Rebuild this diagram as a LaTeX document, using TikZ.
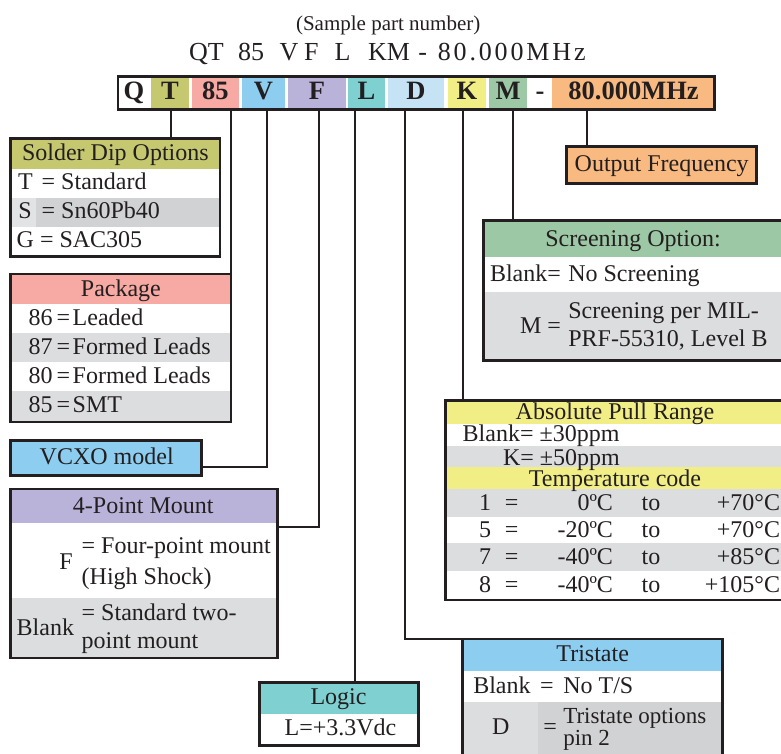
\documentclass[tikz,border=0pt]{standalone}
\usepackage{fontspec}
\setmainfont{Liberation Serif}
\newfontfamily\trackfont[LetterSpace=11]{Liberation Serif}
\definecolor{ink}{HTML}{231F20}
\definecolor{cOlive}{HTML}{C5C86E}
\definecolor{cSalmon}{HTML}{F7A9A3}
\definecolor{cSky}{HTML}{8DCDF0}
\definecolor{cLav}{HTML}{B9B3DA}
\definecolor{cTeal}{HTML}{7FD0D1}
\definecolor{cPale}{HTML}{C6E3F5}
\definecolor{cYel}{HTML}{F2EE86}
\definecolor{cGreen}{HTML}{9CC8A5}
\definecolor{cOrange}{HTML}{F9BA82}
\definecolor{cGray}{HTML}{DCDDDF}
\definecolor{cGrayD}{HTML}{D1D2D4}
\definecolor{cGrayL}{HTML}{E2E3E5}
\begin{document}
\begin{tikzpicture}[x=1pt,y=-1pt,
  every node/.style={inner sep=0pt, outer sep=0pt, text=ink},
  font=\fontsize{24}{26}\selectfont,
  frame/.style={draw=ink, line width=2.6pt, anchor=north west},
  wire/.style={draw=ink, line width=2pt},
  tx/.style={text height=16pt, text depth=0pt},
  cellbox/.style={minimum height=30.6pt, text height=17.5pt, text depth=4pt,
    font=\fontsize{26.5}{27}\selectfont\bfseries}]
\useasboundingbox (0,0) rectangle (781,753);
\clip (0,0) rectangle (781,753);

% ---------- title ----------
\node[anchor=base, font=\fontsize{21}{22}\selectfont] (sub) at (388.2,30.7) {(Sample part number)};
\begin{scope}[every node/.append style={anchor=base west, font=\fontsize{26}{27}\selectfont}]
\node (ti1) at (189.2,60.7) {QT};
\node (ti2) at (238.1,60.7) {85};
\node (ti3) at (279.7,60.7) {V};
\node (ti4) at (304.2,60.7) {F};
\node (ti5) at (334.7,60.7) {L};
\node (ti6) at (368.1,60.7) {KM};
\node (ti7) at (418.3,60.7) {-};
\node (ti8) at (437.8,60.7) {\trackfont 80.000MHz};
\end{scope}

% ---------- code bar ----------
\node[cellbox, minimum width=32pt] (cQ) at (134,93) {Q};
\node[cellbox, fill=cOlive, minimum width=38.3pt] (cT) at (169.85,93) {T};
\node[cellbox, fill=cSalmon, minimum width=47.3pt] (c85) at (215.35,93) {85};
\node[cellbox, fill=cSky, minimum width=43pt] (cV) at (263.5,93) {V};
\node[cellbox, fill=cLav, minimum width=57.7pt] (cF) at (316.85,93) {F};
\node[cellbox, fill=cTeal, minimum width=37pt] (cL) at (366.5,93) {L};
\node[cellbox, fill=cPale, minimum width=56pt] (cD) at (416,93) {D};
\node[cellbox, fill=cYel, minimum width=38pt] (cK) at (467,93) {K};
\node[cellbox, fill=cGreen, minimum width=38pt] (cM) at (508,93) {M};
\node[cellbox, minimum width=24pt] (cDash) at (540,93) {-};
\node[cellbox, fill=cOrange, minimum width=163pt] (cMHz) at (633.5,93) {80.000MHz};
\node[frame, minimum width=596.7pt, minimum height=33pt] (bar) at (117.8,76.7) {};

% ---------- Solder Dip Options ----------
\fill[cOlive] (10.7,138.3) rectangle (220,169.3);
\fill[cGrayL] (10.7,198.3) rectangle (35.7,226.7);
\fill[cGrayD] (35.7,198.3) rectangle (220,226.7);
\node[frame, minimum width=209.3pt, minimum height=118.4pt] (solder) at (10.7,138.3) {};
\node[tx] (sdh) at (115.4,152.8) {Solder Dip Options};
\node[tx,anchor=west] (sd1a) at (18,181.8) {T};
\node[tx,anchor=west] (sd1b) at (41.7,181.8) {= Standard};
\node[tx,anchor=west] (sd2a) at (18.3,210.5) {S};
\node[tx,anchor=west] (sd2b) at (41.7,210.5) {= Sn60Pb40};
\node[tx,anchor=west] (sd3a) at (16.7,239.5) {G};
\node[tx,anchor=west] (sd3b) at (40,239.5) {= SAC305};

% ---------- Package ----------
\fill[cSalmon] (10.7,274) rectangle (231,304);
\fill[cGray] (10.7,333) rectangle (231,362);
\fill[cGray] (10.7,391) rectangle (231,422);
\node[frame, minimum width=220.3pt, minimum height=148pt] (pkg) at (10.7,274) {};
\node[tx] (pkh) at (120.9,288.3) {Package};
\node[tx,anchor=east] (pk1a) at (52.7,317.5) {86};
\node[tx,anchor=west] (pk1b) at (56.7,317.5) {=};
\node[tx,anchor=west] (pk1c) at (72.7,317.5) {Leaded};
\node[tx,anchor=east] (pk2a) at (52.7,346.5) {87};
\node[tx,anchor=west] (pk2b) at (56.7,346.5) {=};
\node[tx,anchor=west] (pk2c) at (72.7,346.5) {Formed Leads};
\node[tx,anchor=east] (pk3a) at (52.7,375.5) {80};
\node[tx,anchor=west] (pk3b) at (56.7,375.5) {=};
\node[tx,anchor=west] (pk3c) at (72.7,375.5) {Formed Leads};
\node[tx,anchor=east] (pk4a) at (52.7,404.5) {85};
\node[tx,anchor=west] (pk4b) at (56.7,404.5) {=};
\node[tx,anchor=west] (pk4c) at (72.7,404.5) {SMT};

% ---------- VCXO ----------
\node[frame, line width=3pt, fill=cSky, minimum width=191pt, minimum height=35.5pt] (vcxo) at (10.7,440) {};
\node[tx] (vct) at (106.7,456.7) {VCXO model};

% ---------- 4-Point Mount ----------
\fill[cLav] (10.7,489) rectangle (277.7,523.3);
\fill[cGray] (10.7,598.3) rectangle (277.7,658);
\node[frame, minimum width=267pt, minimum height=169pt] (fpm) at (10.7,489) {};
\node[tx] (fph) at (143.3,505.8) {4-Point Mount};
\node[tx] (fp1a) at (66,561) {F};
\node[tx,anchor=west] (fp1b) at (81.7,545.5) {= Four-point mount};
\node[tx,anchor=west] (fp1c) at (81.7,576) {(High Shock)};
\node[tx,anchor=west] (fp2a) at (16.7,627) {Blank};
\node[tx,anchor=west] (fp2b) at (81.7,612) {= Standard two-};
\node[tx,anchor=west] (fp2c) at (81.7,640) {point mount};

% ---------- Logic ----------
\fill[cTeal] (259.2,682.5) rectangle (418.5,713.7);
\node[frame, minimum width=159.3pt, minimum height=62.8pt] (logic) at (259.2,682.5) {};
\node[tx] (lgh) at (338.5,696.4) {Logic};
\node[tx] (lg1) at (340.5,727) {L=+3.3Vdc};

% ---------- Output Frequency ----------
\node[frame, fill=cOrange, minimum width=190pt, minimum height=36.8pt] (outf) at (566.7,146.5) {};
\node[tx] (oft) at (661.7,163.5) {Output Frequency};

% ---------- Screening Option ----------
\fill[cGreen] (483.3,220.7) rectangle (790,256.7);
\fill[cGray] (483.3,291.7) rectangle (790,360.7);
\node[frame, minimum width=300pt, minimum height=140pt] (scr) at (483.3,220.7) {};
\node[tx] (sch) at (633,238.3) {Screening Option:};
\node[tx,anchor=west] (sc1a) at (490,273.3) {Blank=};
\node[tx,anchor=west] (sc1b) at (568.3,273.3) {No Screening};
\node[tx,anchor=east] (sc2a) at (561,325) {M =};
\node[tx,anchor=west] (sc2b) at (568.3,310) {Screening per MIL-};
\node[tx,anchor=west] (sc2c) at (568.3,338.3) {PRF-55310, Level B};

% ---------- Absolute Pull Range / Temperature ----------
\fill[cYel] (445.7,400.7) rectangle (790,424.3);
\fill[cGray] (445.7,446) rectangle (790,467);
\fill[cYel] (445.7,467) rectangle (790,489);
\fill[cGray] (445.7,489) rectangle (790,516.7);
\fill[cGray] (445.7,543.3) rectangle (790,570.7);
\node[frame, minimum width=338.3pt, minimum height=199.3pt] (abs) at (445.7,400.7) {};
\node[tx] (abh) at (615,411.7) {Absolute Pull Range};
\node[tx,anchor=west] (ab1) at (462.7,433.8) {Blank= \textpm30ppm};
\node[tx,anchor=west] (ab2) at (503,457) {K= \textpm50ppm};
\node[tx] (tch) at (615,478) {Temperature code};
\foreach \yy/\cc/\lo/\hi [count=\i] in {502.7/1/0ºC/+70°C, 529.7/5/-20ºC/+70°C, 556.7/7/-40ºC/+85°C, 584.2/8/-40ºC/+105°C}{
  \node[tx] (tr\i a) at (485,\yy) {\cc};
  \node[tx] (tr\i b) at (511.7,\yy) {=};
  \node[tx,anchor=east] (tr\i c) at (613,\yy) {\lo};
  \node[tx,anchor=west] (tr\i d) at (641.7,\yy) {to};
  \node[tx,anchor=east] (tr\i e) at (780,\yy) {\hi};
}

% ---------- Tristate ----------
\fill[cSky] (462.7,639) rectangle (722.7,670.7);
\fill[cGray] (462.7,701.7) rectangle (537.7,790);
\fill[cGrayD] (537.7,701.7) rectangle (722.7,790);
\node[frame, minimum width=260pt, minimum height=150pt] (tri) at (462.7,639) {};
\node[tx] (trh) at (592.7,653.5) {Tristate};
\node[tx,anchor=west] (ts1a) at (473.3,685.8) {Blank};
\node[tx,anchor=west] (ts1b) at (540,685.8) {=};
\node[tx,anchor=west] (ts1c) at (563.3,685.8) {No T/S};
\node[tx] (ts2a) at (500.8,726.7) {D};
\node[tx,anchor=west] (ts2b) at (543.3,726.7) {=};
\node[tx,anchor=west, font=\fontsize{23}{24}\selectfont, text height=15pt] (ts2c) at (563.3,715.5) {Tristate options};
\node[tx,anchor=west, font=\fontsize{23}{24}\selectfont, text height=15pt] (ts2d) at (563.3,737.5) {pin 2};

% ---------- connectors ----------
\coordinate (pT) at ([xshift=1.15pt]cT.south);
\coordinate (p85) at (c85.south -| pkg.north east);
\coordinate (pV) at ([xshift=3.5pt]cV.south);
\coordinate (pF) at ([xshift=2.15pt]cF.south);
\coordinate (pL) at ([xshift=-11.2pt]cL.south);
\coordinate (pD) at ([xshift=-11.1pt]cD.south);
\coordinate (pK) at ([xshift=-4.3pt]cK.south);
\coordinate (pM) at ([xshift=4.7pt]cM.south);
\coordinate (pMHz) at ([xshift=-47pt]cMHz.south);
\draw[wire] (pT) -- (pT |- solder.north);
\draw[wire] (p85) -- (pkg.north east);
\draw[wire] (pV) |- ([yshift=-9pt]vcxo.east);
\draw[wire] (pF) |- ([yshift=-37.7pt]fpm.north east);
\draw[wire] (pL) -- (pL |- logic.north);
\draw[wire] (pD) |- (tri.north west);
\draw[wire] (pK) -- (pK |- abs.north);
\draw[wire] (pM) -- (pM |- scr.north);
\draw[wire] (pMHz) -- (pMHz |- outf.north);
\end{tikzpicture}
\end{document}
